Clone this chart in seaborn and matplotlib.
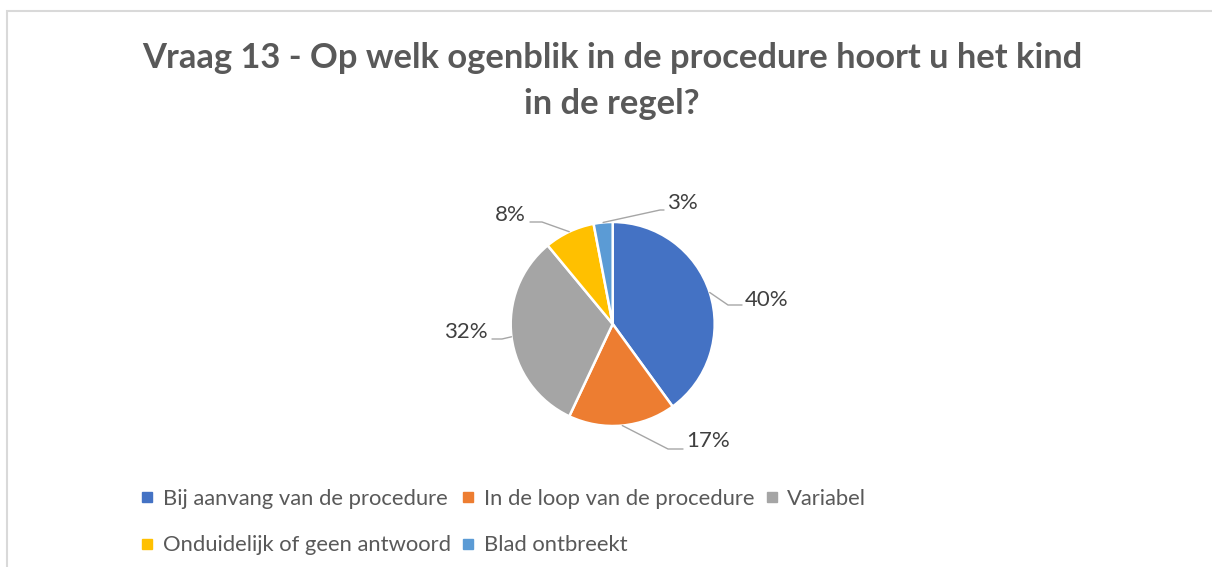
import numpy as np
import matplotlib
matplotlib.use("Agg")
import matplotlib.pyplot as plt
import seaborn as sns
from matplotlib.lines import Line2D
from matplotlib.patches import Rectangle

# data
categories = ["Bij aanvang van de procedure", "In de loop van de procedure", "Variabel",
              "Onduidelijk of geen antwoord", "Blad ontbreekt"]
values = [40, 17, 32, 8, 3]
colors = ["#4472C4", "#ED7D31", "#A5A5A5", "#FFC000", "#5B9BD5"]
title = "Vraag 13 - Op welk ogenblik in de procedure hoort u het kind\nin de regel?"

# label layout (pixels from top-left): text anchor, knee of leader line, tail of leader
label_text = [(745, 300, "left"), (686, 441, "left"), (488, 332, "right"),
              (526, 215, "right"), (667, 203, "left")]
label_knee = [(728, 305), (668, 449), (502, 339), (542, 222), (660, 210)]
label_tail = [(742, 305), (683, 449), (492, 339), (530, 222), (664, 210)]

sns.set_theme(style="white")
plt.rcParams["font.family"] = ["Lato", "DejaVu Sans"]

W, H = 1212, 567
fig = plt.figure(figsize=(W / 100, H / 100), dpi=100)
ax = fig.add_axes([0, 0, 1, 1])

# chart border (light gray, top and left visible)
ax.add_patch(Rectangle((7, -20), W + 40, H - 11 + 20, fill=False, edgecolor="#D9D9D9", lw=1.5))

cx, cy, r = 612.7, H - 324, 102
wedges, _ = ax.pie(values, colors=colors, startangle=90, counterclock=False,
                   center=(cx, cy), radius=r, frame=True,
                   wedgeprops=dict(edgecolor="white", linewidth=1.8))
ax.set_xlim(0, W)
ax.set_ylim(0, H)
ax.set_aspect("equal")
ax.axis("off")

total = sum(values)
for i, w in enumerate(wedges):
    mid = np.deg2rad((w.theta1 + w.theta2) / 2)
    px, py = cx + r * np.cos(mid), cy + r * np.sin(mid)
    kx, ky = label_knee[i]
    tx, ty = label_tail[i]
    ax.plot([px, kx, tx], [py, H - ky, H - ty], color="#A6A6A6", lw=1)
    lx, ly, ha = label_text[i]
    ax.text(lx, H - ly, f"{values[i] / total * 100:.0f}%", ha=ha, va="center",
            fontsize=16, color="#404040")

fig.text(0.505, 1 - 81 / H, title, ha="center", va="center", fontsize=24.8,
         fontweight="bold", color="#595959", linespacing=1.55)

handles = [Line2D([], [], marker="s", ls="", color=c, markersize=6.5) for c in colors]
order = [0, 3, 1, 4, 2]
leg = fig.legend([handles[i] for i in order], [categories[i] for i in order],
                 ncol=3, loc="upper left", bbox_to_anchor=(142 / W, 1 - 489 / H),
                 frameon=False, fontsize=15.8, handlelength=0.5, handletextpad=0.45,
                 columnspacing=0.55, labelspacing=1.2, borderaxespad=0, borderpad=0)
for t in leg.get_texts():
    t.set_color("#595959")

fig.savefig("out.png", dpi=100)
